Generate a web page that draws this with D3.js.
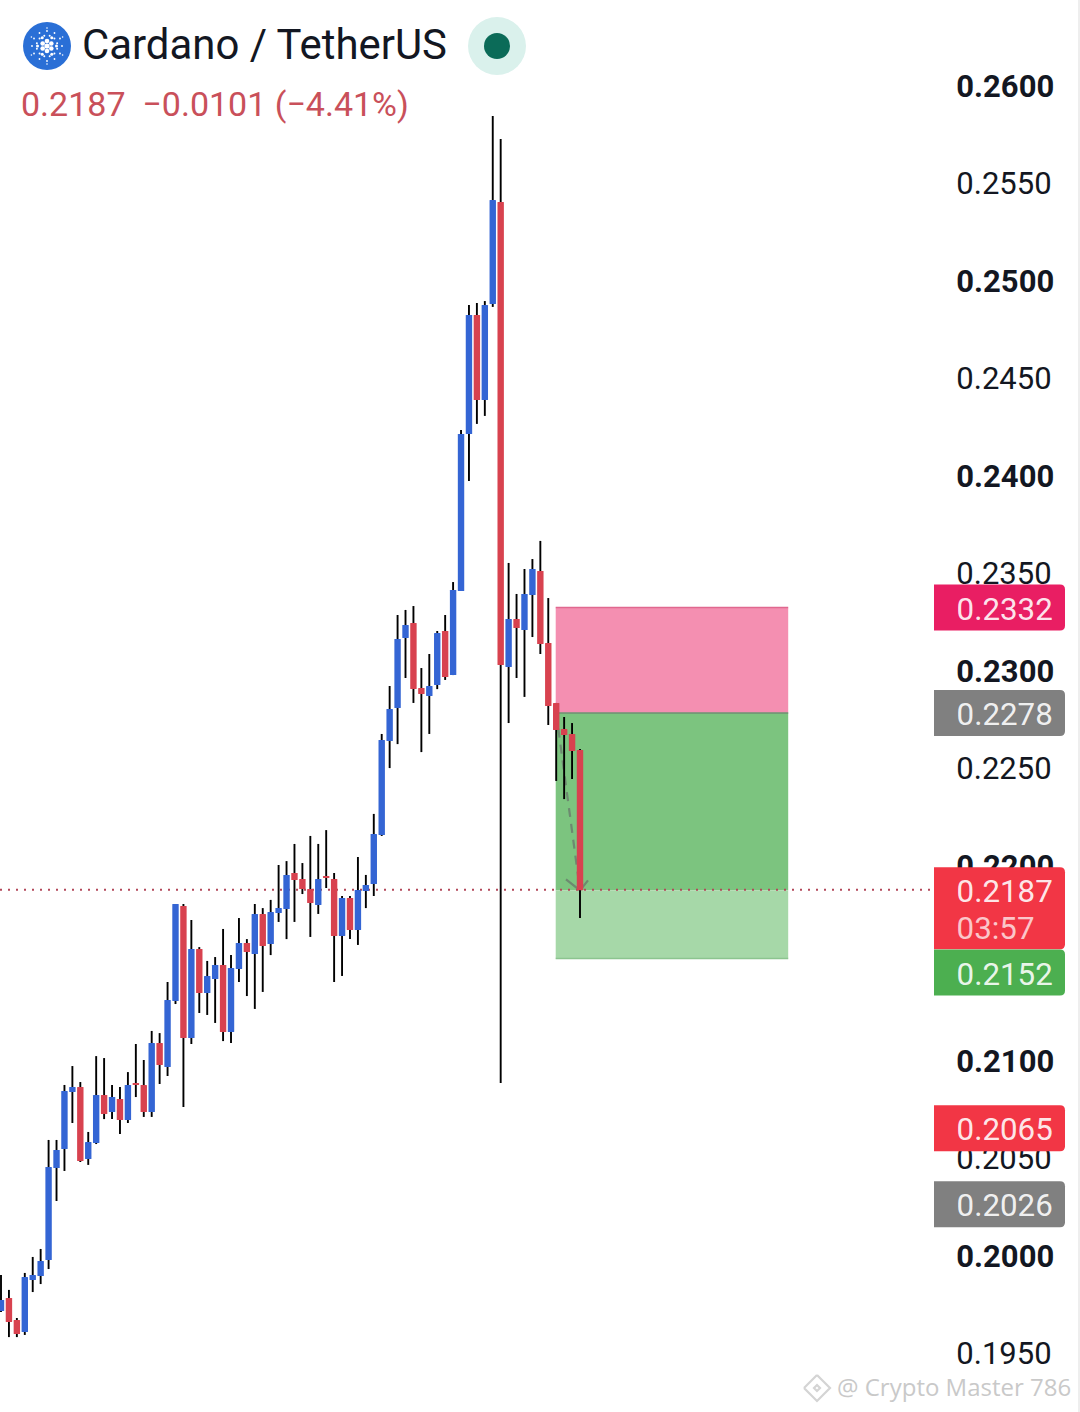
<!DOCTYPE html>
<html>
<head>
<meta charset="utf-8">
<script src="https://cdn.jsdelivr.net/npm/d3@7/dist/d3.min.js"></script>
<style>
html,body{margin:0;padding:0;background:#fff;}
svg{display:block;font-family:Roboto,sans-serif;}
</style>
</head>
<body>
<svg id="c" width="1080" height="1412"></svg>
<script>
const highs=[.19897,.19821,.19677,.19908,.19990,.20031,.20590,.20590,.20872,.20969,.20887,.20631,.21020,.21010,.20872,.20862,.20938,.21082,.21000,.21149,.21138,.21400,.21800,.21800,.21718,.21579,.21508,.21528,.21672,.21538,.21728,.21620,.21800,.21779,.21821,.22000,.22020,.22108,.22010,.22149,.22108,.22179,.21959,.21841,.21841,.22041,.21949,.22262,.22672,.22918,.23282,.23308,.23328,.23010,.23082,.23200,.23282,.23451,.24231,.24872,.24882,.24892,.25841,.25723,.23549,.23390,.23518,.23569,.23662,.23369,.22831,.22759,.22728,.22595];
const lows=[.19708,.19579,.19579,.19590,.19810,.19851,.19928,.20277,.20431,.20677,.20477,.20462,.20569,.20697,.20697,.20621,.20677,.20810,.20708,.20708,.20877,.20918,.21287,.20759,.21082,.21241,.21231,.21190,.21097,.21087,.21400,.21328,.21262,.21349,.21538,.21708,.21620,.21708,.21851,.21631,.21749,.21882,.21400,.21431,.21620,.21590,.21779,.21841,.22149,.22497,.22620,.22959,.22831,.22579,.22672,.22902,.22949,.22974,.23405,.23969,.24262,.24303,.24862,.20882,.22728,.22959,.22862,.23169,.23082,.22718,.22431,.22338,.22441,.21728];
const opens=[.19713,.19779,.19667,.19605,.19872,.19892,.19974,.20446,.20544,.20836,.20862,.20492,.20574,.20820,.20733,.20800,.20692,.20882,.20872,.20733,.21087,.20964,.21303,.21790,.21113,.21569,.21344,.21415,.21487,.21144,.21467,.21600,.21544,.21749,.21595,.21754,.21774,.21959,.21928,.21877,.21795,.21944,.21928,.21636,.21831,.21667,.21867,.21903,.22154,.22636,.22805,.23164,.23241,.22908,.22867,.22923,.23200,.22974,.23405,.24210,.24821,.24385,.24877,.25400,.23015,.23262,.23205,.23385,.23508,.23138,.22831,.22697,.22672,.22590];
const closes=[.19769,.19656,.19595,.19887,.19897,.19969,.20451,.20538,.20841,.20862,.20482,.20579,.20820,.20723,.20810,.20692,.20872,.20872,.20733,.21087,.20974,.21308,.21800,.21113,.21569,.21344,.21431,.21487,.21144,.21472,.21600,.21554,.21749,.21585,.21759,.21779,.21949,.21923,.21877,.21805,.21928,.21933,.21636,.21831,.21667,.21872,.21897,.22159,.22641,.22800,.23159,.23231,.22902,.22877,.22918,.23190,.22964,.23410,.24210,.24821,.24385,.24872,.25410,.23026,.23262,.23215,.23390,.23518,.23133,.22815,.22692,.22667,.22585,.2187];

const tickValues=[.26,.255,.25,.245,.24,.235,.23,.225,.22,.21,.205,.20,.195];
const boldTicks=[.26,.25,.24,.23,.22,.21,.20];

const lastPrice=.2187, stopLevel=.2332, entryLevel=.2278, targetLevel=.2152;
const zoneStart=70, zoneEnd=99.25;

const priceTags=[
 {text:"0.2332",price:.2332,fill:"#e91e63"},
 {text:"0.2278",price:.2278,fill:"#808080"},
 {text:"0.2187",price:.2187,fill:"#f23645",sub:"03:57"},
 {text:"0.2152",price:.2152,fill:"#4caf50",shift:14},
 {text:"0.2065",price:.2065,fill:"#f23645"},
 {text:"0.2026",price:.2026,fill:"#808080"}
];

const titleText="Cardano / TetherUS";
const quoteText="0.2187\u00a0\u00a0\u22120.0101 (\u22124.41%)";
const watermark="@ Crypto Master 786";

const blue="#3465d4", red="#d8424f", wick="#000";
const svg=d3.select("#c");
const x=d3.scaleLinear().domain([0,73]).range([1,580]);
const y=d3.scaleLinear().domain([.26,.20]).range([85,1255]);

svg.append("rect").attr("width",1080).attr("height",1412).attr("fill","#fff");
svg.append("line").attr("x1",1079).attr("x2",1079).attr("y1",0).attr("y2",1412).attr("stroke","#eeeeee").attr("stroke-width",2);

// position zones
const zones=[
 [stopLevel,entryLevel,"#f48fb1"],
 [entryLevel,lastPrice,"#7cc47f"],
 [lastPrice,targetLevel,"#a6d8a8"]
];
const zg=svg.append("g");
zones.forEach(z=>{
 zg.append("rect").attr("x",x(zoneStart)-.5).attr("width",x(zoneEnd)-x(zoneStart)+.5)
  .attr("y",y(z[0])).attr("height",y(z[1])-y(z[0])).attr("fill",z[2]);
});
[[stopLevel,"#e0688f"],[entryLevel,"#6f8f72"],[targetLevel,"#8cc48f"]].forEach(l=>{
 zg.append("line").attr("x1",x(zoneStart)-.5).attr("x2",x(zoneEnd)).attr("y1",y(l[0])).attr("y2",y(l[0])).attr("stroke",l[1]).attr("stroke-width",1.5);
});

// dotted price line
svg.append("line").attr("x1",0).attr("x2",934).attr("y1",y(lastPrice)-.6).attr("y2",y(lastPrice)-.6)
 .attr("stroke","#b3475a").attr("stroke-width",1.8).attr("stroke-dasharray","2 6");

// dashed projection arrow
const ag=svg.append("g").attr("stroke","#6d8a70").attr("fill","none").attr("stroke-width",2.2);
ag.append("line").attr("x1",x(70)).attr("y1",y(entryLevel)).attr("x2",x(73)).attr("y2",y(lastPrice)).attr("stroke-dasharray","9 7");
ag.append("path").attr("d",d3.line()([[x(73)-14,y(lastPrice)-11],[x(73),y(lastPrice)],[x(73)+8,y(lastPrice)-10]]));

// candles
const candles=d3.range(highs.length).map(i=>({i,h:highs[i],l:lows[i],o:opens[i],c:closes[i]}));
const cg=svg.append("g");
cg.selectAll("line").data(candles).join("line")
 .attr("x1",d=>x(d.i)).attr("x2",d=>x(d.i)).attr("y1",d=>y(d.h)).attr("y2",d=>y(d.l))
 .attr("stroke",wick).attr("stroke-width",1.9);
cg.selectAll("rect").data(candles).join("rect")
 .attr("x",d=>x(d.i)-3.2).attr("width",6.4)
 .attr("y",d=>y(Math.max(d.o,d.c))).attr("height",d=>Math.max(2,Math.abs(y(d.o)-y(d.c))))
 .attr("rx",.5)
 .attr("fill",d=>d.c>=d.o?blue:red);

// price axis
const fmt=d3.format(".4f");
const axis=d3.axisRight(y).tickValues(tickValues).tickSize(0).tickPadding(0).tickFormat(fmt);
const ax=svg.append("g").attr("transform","translate(956.3,0)").call(axis);
ax.select(".domain").remove();
ax.selectAll("text").attr("fill","#131722").attr("font-family","Roboto,sans-serif").attr("font-size",31)
 .attr("font-weight",d=>boldTicks.includes(d)?700:400).attr("dy",".36em");

// price tags
const tg=svg.append("g");
function tagPath(x0,y0,w,h,r){return `M${x0},${y0}H${x0+w-r}Q${x0+w},${y0} ${x0+w},${y0+r}V${y0+h-r}Q${x0+w},${y0+h} ${x0+w-r},${y0+h}H${x0}Z`;}
priceTags.forEach(t=>{
 const cy=y(t.price)+(t.shift||0), h=t.sub?82:46, top=cy-23;
 tg.append("path").attr("d",tagPath(934,top,131,h,5)).attr("fill",t.fill);
 tg.append("text").attr("x",956.6).attr("y",cy+12).attr("fill","#fff").attr("fill-opacity",.9).attr("font-size",31.3).text(t.text);
 if(t.sub) tg.append("text").attr("x",956.6).attr("y",cy+48.5).attr("fill","#fff").attr("fill-opacity",.72).attr("font-size",31.3).text(t.sub);
});

// header
const logo=svg.append("g").attr("transform","translate(47,46)");
logo.append("circle").attr("r",24).attr("fill","#2a6fd6");
[[0,1,2.6],[5,6,2.3],[9.5,6,1.5],[10.5,12,1.0],[15,12,.9],[18,6,.8]].forEach((ring,k)=>{
 d3.range(ring[1]).forEach(j=>{
  const a=j/ring[1]*2*Math.PI+(k%2?Math.PI/ring[1]:0);
  logo.append("circle").attr("cx",ring[0]*Math.cos(a)).attr("cy",ring[0]*Math.sin(a)).attr("r",ring[2]).attr("fill","#fff");
 });
});
svg.append("text").attr("x",82).attr("y",59).attr("font-size",41.9).attr("fill","#131722").text(titleText);
svg.append("text").attr("x",21).attr("y",116).attr("font-size",34).attr("fill","#c9505a").text(quoteText);
svg.append("circle").attr("cx",497).attr("cy",46).attr("r",29).attr("fill","#daf1ec");
svg.append("circle").attr("cx",497).attr("cy",46).attr("r",13).attr("fill","#0b6b58");

// watermark
const wm=svg.append("g").attr("transform","translate(817,1388)").attr("fill","none").attr("stroke","#d4d4d4").attr("stroke-width",2.2);
wm.append("path").attr("d","M0,-13L7,-6M0,-13L-7,-6M-13,0L-7,6L0,13L7,6L13,0L7,-6M-13,0L-7,-6M-3,0L0,-3L3,0L0,3Z");
svg.append("text").attr("x",837).attr("y",1396).attr("font-family","'Open Sans',sans-serif").attr("font-size",24).attr("fill","#c9c9c9").text(watermark);
</script>
</body>
</html>
